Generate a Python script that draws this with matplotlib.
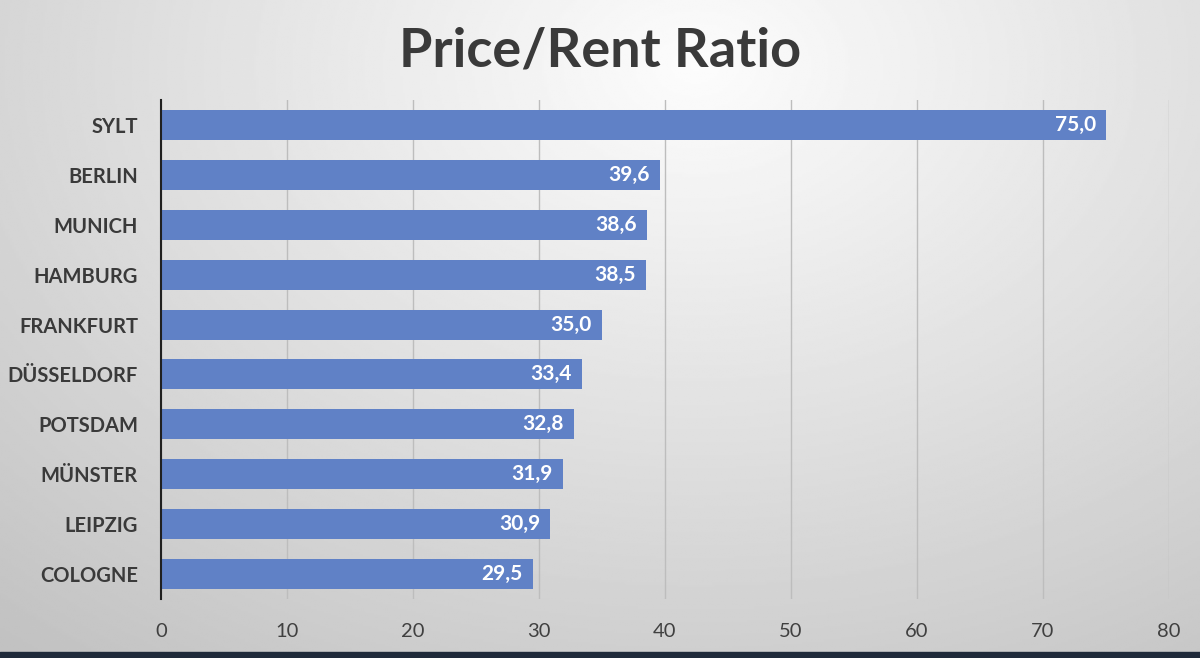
import matplotlib.pyplot as plt
import numpy as np

plt.rcParams['font.family'] = ['Lato', 'DejaVu Sans']

cities = ["SYLT", "BERLIN", "MUNICH", "HAMBURG", "FRANKFURT",
          "DÜSSELDORF", "POTSDAM", "MÜNSTER", "LEIPZIG", "COLOGNE"]
ratio = [75.0, 39.6, 38.6, 38.5, 35.0, 33.4, 32.8, 31.9, 30.9, 29.5]
x_ticks = [0, 10, 20, 30, 40, 50, 60, 70, 80]

fig = plt.figure(figsize=(12, 6.58), dpi=100)

# gray radial background, lighter near the top middle
bg = fig.add_axes([0, 0, 1, 1], zorder=-10)
yy, xx = np.mgrid[0:1:300j, 0:1:550j]
r = np.sqrt(((xx - 0.58) * 1.3) ** 2 + ((yy - 0.1) * 1.0) ** 2)
shade = np.clip(0.99 - 0.2 * r, 0.76, 1.0)
bg.imshow(shade, cmap='gray', vmin=0, vmax=1, aspect='auto',
          extent=[0, 1, 1, 0])
bg.fill_between([0, 1], 0.991, 1.0, color='#1f2a3a')
bg.set_xlim(0, 1)
bg.set_ylim(1, 0)
bg.axis('off')

ax = fig.add_axes([0.134, 0.0897, 0.840, 0.7583])
ax.patch.set_alpha(0)

y = np.arange(len(cities))
ax.barh(y, ratio, height=0.6, color='#6081c6', zorder=3)

for yi, v in zip(y, ratio):
    ax.text(v - 0.8, yi, f"{v:.1f}".replace('.', ','), ha='right', va='center',
            color='white', fontsize=15, fontweight='bold', zorder=4)

ax.set_xlim(0, 80)
ax.set_ylim(len(cities) - 0.5, -0.5)
ax.set_xticks(x_ticks)
ax.set_xticklabels([str(t) for t in x_ticks], fontsize=14.5, color='#404040')
ax.set_yticks(y)
ax.set_yticklabels(cities, fontsize=14.5, fontweight='bold', color='#3a3a3a')
ax.tick_params(axis='both', length=0)
ax.tick_params(axis='x', pad=17)
ax.tick_params(axis='y', pad=16.5)

ax.grid(axis='x', color='#bdbdbd', linewidth=1, zorder=0)
for s in ['top', 'right', 'bottom']:
    ax.spines[s].set_visible(False)
ax.spines['left'].set_color('#202020')
ax.spines['left'].set_linewidth(1.5)
ax.spines['left'].set_zorder(5)

fig.text(0.5, 0.922, "Price/Rent Ratio", ha='center', va='center',
         fontsize=39, fontweight='bold', color='#3a3a3a')

fig.savefig("out.png", dpi=100)
